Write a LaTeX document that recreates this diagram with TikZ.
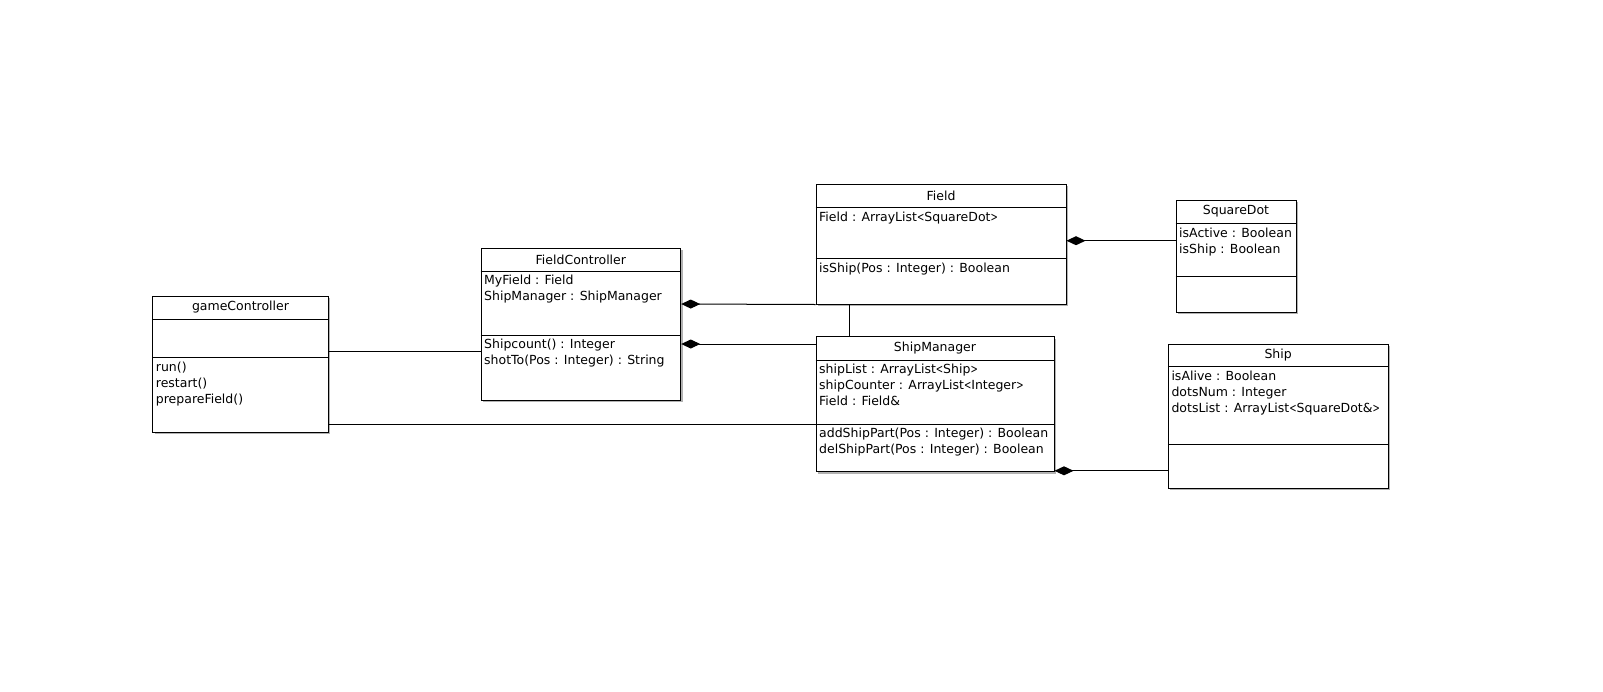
\documentclass[tikz,border=0pt]{standalone}
\usepackage{graphicx}
\usepackage{fontspec}
\setmainfont{DejaVu Sans}
\usetikzlibrary{arrows.meta,fit,shadows}

% one UML class: name, left, top, right, bottom, y of first divider, y of second divider, title
\newcommand\umlclass[8]{%
  \node[clsbox, fit={(#2,#3) (#4,#5)}] (#1) {};
  \draw[divider] (#1.west |- 0,#6) -- (#1.east |- 0,#6);
  \draw[divider] (#1.west |- 0,#7) -- (#1.east |- 0,#7);
  \path (#1.north) -- (#1.north |- 0,#6) node[midway, clstitle] (#1-title) {#8};
}
\newcommand\mstrut{\rule{0pt}{12.5pt}}
% slimmer angle brackets for generic types
\newcommand\lab{\scalebox{0.7}[1]{<}}
\newcommand\rab{\scalebox{0.7}[1]{>}}

\begin{document}
\begin{tikzpicture}[x=1pt,y=-1pt,
  clsbox/.style={draw=black, line width=1pt, fill=white, inner sep=0pt,
    drop shadow={shadow xshift=2pt, shadow yshift=-2pt, fill=black!30, opacity=1}},
  divider/.style={line width=1pt},
  clstitle/.style={inner sep=0pt, font=\fontsize{12.5}{16}\selectfont},
  members/.style={inner sep=0pt, anchor=north west, align=left,
    font=\fontsize{12.5}{16}\selectfont},
  link/.style={line width=1pt},
  comp/.style={link, {Diamond[length=19pt,width=9pt]}-}
]
\fill[white] (0,0) rectangle (1603,691);
\useasboundingbox (0,0) rectangle (1603,691);

% classes
\umlclass{gc}{152.7}{296}{328.3}{432.3}{319}{357.3}{gameController}
\node[members] (gc-ops) at (155.7,358.3) {\mstrut run()\\restart()\\prepareField()};

\umlclass{fc}{481}{248.3}{680.7}{400}{271}{335}{FieldController}
\node[members] (fc-attrs) at (484,272) {\mstrut MyField : Field\\ShipManager : ShipManager};
\node[members] (fc-ops) at (484,336) {\mstrut Shipcount() : Integer\\shotTo(Pos : Integer) : String};

\umlclass{field}{816}{184.3}{1066}{304}{207.3}{258.3}{Field}
\node[members] (field-attrs) at (819,208.3) {\mstrut Field : ArrayList\lab SquareDot\rab};
\node[members] (field-ops) at (819,259.3) {\mstrut isShip(Pos : Integer) : Boolean};

\umlclass{sq}{1176}{200}{1296}{312}{223.3}{276.5}{SquareDot}
\node[members] (sq-attrs) at (1179,224.3) {\mstrut isActive : Boolean\\isShip : Boolean};

\umlclass{sm}{816}{336.7}{1054}{471.7}{360}{424}{ShipManager}
\node[members] (sm-attrs) at (819,361) {\mstrut shipList : ArrayList\lab Ship\rab\\shipCounter : ArrayList\lab Integer\rab\\Field : Field\&};
\node[members] (sm-ops) at (819,425) {\mstrut addShipPart(Pos : Integer) : Boolean\\delShipPart(Pos : Integer) : Boolean};

\umlclass{ship}{1168.3}{344.3}{1388}{488.3}{366.7}{444}{Ship}
\node[members] (ship-attrs) at (1171.3,367.7) {\mstrut isAlive : Boolean\\dotsNum : Integer\\dotsList : ArrayList\lab SquareDot\&\rab};

% relations
\draw[link] (gc.east |- 0,351) -- (fc.west |- 0,351);
\draw[link] (gc.east |- 0,424) -- (sm.west |- 0,424);
\draw[comp] (fc.east |- 0,304) -- (field.south west);
\draw[comp] (fc.east |- 0,344) -- (sm.west |- 0,344);
\draw[link] (field.south -| 849,0) -- (sm.north -| 849,0);
\draw[comp] (field.east |- 0,240.7) -- (sq.west |- 0,240.7);
\draw[comp] (sm.east |- 0,470.8) -- (ship.west |- 0,470.8);
\end{tikzpicture}
\end{document}
